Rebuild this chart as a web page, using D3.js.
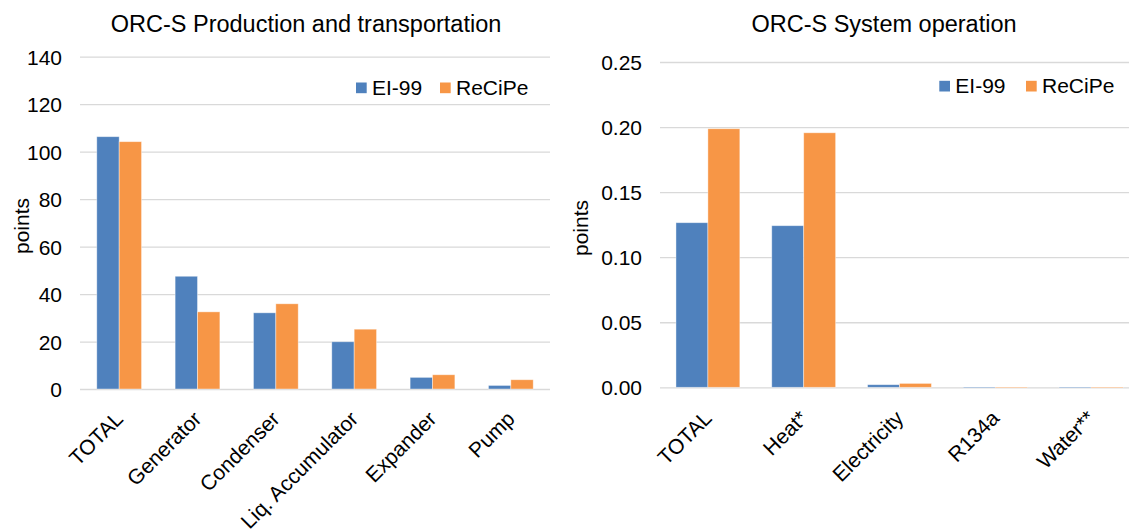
<!DOCTYPE html>
<html>
<head>
<meta charset="utf-8">
<script src="https://cdn.jsdelivr.net/npm/d3@7/dist/d3.min.js"></script>
<style>
  html, body { margin: 0; padding: 0; background: #fff; }
  svg { display: block; font-family: "Liberation Sans", Arial, sans-serif; }
</style>
</head>
<body>
<svg id="chart" width="1129" height="529"></svg>
<script>
// ---- Data ----
const seriesNames = ["EI-99", "ReCiPe"];
const seriesColors = ["#4F81BD", "#F79646"];

const leftTitle = "ORC-S Production and transportation";
const leftCategories = ["TOTAL", "Generator", "Condenser", "Liq. Accumulator", "Expander", "Pump"];
const leftEI99 = [106.3, 47.5, 32.1, 19.9, 4.9, 1.5];
const leftReCiPe = [104.2, 32.5, 35.9, 25.2, 6.0, 3.9];
const leftTicks = [0, 20, 40, 60, 80, 100, 120, 140];

const rightTitle = "ORC-S System operation";
const rightCategories = ["TOTAL", "Heat*", "Electricity", "R134a", "Water**"];
const rightEI99 = [0.1265, 0.1242, 0.0020, 0.0002, 0.0002];
const rightReCiPe = [0.1987, 0.1956, 0.0030, 0.0002, 0.0002];
const rightTicks = [0, 0.05, 0.10, 0.15, 0.20, 0.25];

const yLabel = "points";

// ---- Drawing ----
const svg = d3.select("#chart");
const FONT = 21;

function drawPanel(cfg) {
  const g = svg.append("g");
  const x = d3.scaleBand().domain(cfg.categories).range([cfg.x0, cfg.x1]).padding(0);
  const y = d3.scaleLinear().domain([0, cfg.yMax]).range([cfg.yBottom, cfg.yTop]);
  const bw = x.bandwidth() / (2 + cfg.gap);

  // gridlines via axis
  const grid = g.append("g")
    .attr("transform", `translate(${cfg.x0},0)`)
    .call(d3.axisLeft(y).tickValues(cfg.ticks).tickSize(-(cfg.gridEnd - cfg.x0)).tickFormat(""));
  grid.select(".domain").remove();
  grid.selectAll(".tick line").attr("stroke", "#D9D9D9").attr("stroke-width", 1.3);

  // tick labels
  const yAxis = g.append("g")
    .attr("transform", `translate(${cfg.x0 - 18},0)`)
    .call(d3.axisLeft(y).tickValues(cfg.ticks).tickSize(0).tickPadding(0).tickFormat(d3.format(cfg.fmt)));
  yAxis.select(".domain").remove();
  yAxis.selectAll("text").attr("font-size", FONT).attr("fill", "#000")
    .attr("font-family", "Liberation Sans, Arial, sans-serif").attr("dy", "0.36em");

  // bars
  const series = [cfg.s1, cfg.s2];
  series.forEach((vals, si) => {
    g.append("g").selectAll("rect")
      .data(vals)
      .join("rect")
      .attr("x", (d, i) => x(cfg.categories[i]) + x.bandwidth() / 2 - bw + si * bw)
      .attr("width", bw)
      .attr("y", d => y(d))
      .attr("height", d => Math.max(0.8, y(0) - y(d)))
      .attr("fill", seriesColors[si])
      .attr("stroke", "#fff")
      .attr("stroke-opacity", 0.5)
      .attr("stroke-width", 0.8);
  });

  // category labels
  const xAxis = g.append("g")
    .attr("transform", `translate(0,${cfg.yBottom + cfg.labelOffset})`)
    .call(d3.axisBottom(x).tickSize(0).tickPadding(0));
  xAxis.select(".domain").remove();
  xAxis.selectAll("text")
    .attr("font-size", FONT).attr("fill", "#000")
    .attr("font-family", "Liberation Sans, Arial, sans-serif")
    .attr("text-anchor", "end")
    .attr("y", 0).attr("dy", "0.35em")
    .attr("transform", "rotate(-45)");

  // title
  g.append("text")
    .attr("x", cfg.titleX).attr("y", 32)
    .attr("text-anchor", "middle")
    .attr("font-size", 23.5).attr("fill", "#000")
    .text(cfg.title);

  // y label
  g.append("text")
    .attr("transform", `translate(${cfg.yLabelX},${cfg.yLabelY}) rotate(-90)`)
    .attr("text-anchor", "middle")
    .attr("dy", "0.35em")
    .attr("font-size", FONT).attr("fill", "#000")
    .text(yLabel);

  // legend
  const leg = g.append("g");
  seriesNames.forEach((name, si) => {
    leg.append("rect")
      .attr("x", cfg.legendX[si]).attr("y", cfg.legendY - 12.5)
      .attr("width", 10.7).attr("height", 10.7)
      .attr("fill", seriesColors[si]);
    leg.append("text")
      .attr("x", cfg.legendX[si] + 16).attr("y", cfg.legendY)
      .attr("font-size", FONT).attr("fill", "#000")
      .text(name);
  });
}

drawPanel({
  categories: leftCategories, s1: leftEI99, s2: leftReCiPe, ticks: leftTicks, fmt: "d",
  yMax: 140, x0: 80, x1: 550, gridEnd: 550, yBottom: 389, yTop: 56.7, gap: 1.5,
  labelOffset: 26, title: leftTitle, titleX: 306, yLabelX: 22, yLabelY: 226,
  legendX: [356, 440], legendY: 95
});

drawPanel({
  categories: rightCategories, s1: rightEI99, s2: rightReCiPe, ticks: rightTicks, fmt: ".2f",
  yMax: 0.25, x0: 660, x1: 1139, gridEnd: 1139, yBottom: 387.3, yTop: 62, gap: 1.0,
  labelOffset: 27, title: rightTitle, titleX: 884, yLabelX: 581, yLabelY: 228,
  legendX: [939.3, 1026], legendY: 93.3
});
</script>
</body>
</html>
